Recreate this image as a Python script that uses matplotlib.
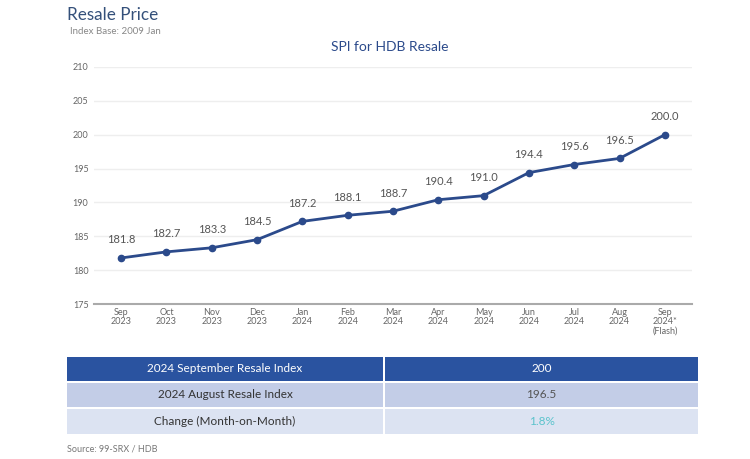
import matplotlib.pyplot as plt
from matplotlib.patches import Rectangle

months = ['Sep\n2023', 'Oct\n2023', 'Nov\n2023', 'Dec\n2023', 'Jan\n2024', 'Feb\n2024',
          'Mar\n2024', 'Apr\n2024', 'May\n2024', 'Jun\n2024', 'Jul\n2024', 'Aug\n2024',
          'Sep\n2024*\n(Flash)']
spi = [181.8, 182.7, 183.3, 184.5, 187.2, 188.1, 188.7, 190.4, 191.0, 194.4, 195.6, 196.5, 200.0]

table_labels = ['2024 September Resale Index', '2024 August Resale Index', 'Change (Month-on-Month)']
table_values = ['200', '196.5', '1.8%']

W, H = 750, 459
fig = plt.figure(figsize=(7.5, 4.59), dpi=100)
plt.rcParams['font.family'] = ['Lato', 'DejaVu Sans']

line_col = '#2b4a8b'
gray = '#666666'

# main chart
ax = fig.add_axes([94 / W, 1 - 304 / H, (692 - 94) / W, (304 - 67) / H])
x = range(len(spi))
ax.plot(x, spi, color=line_col, lw=2, marker='o', ms=4.5, zorder=3)
for i, v in zip(x, spi):
    ax.annotate(f'{v:.1f}', (i, v), xytext=(0, 9), textcoords='offset points',
                ha='center', va='bottom', fontsize=8, color='#555555')
ax.set_ylim(175, 210)
ax.set_yticks(range(175, 211, 5))
ax.set_xlim(-0.6, 12.6)
ax.set_xticks(list(x))
ax.set_xticklabels(months, fontsize=6.5, color=gray, linespacing=1.0)
ax.tick_params(axis='y', labelsize=6.5, labelcolor=gray, length=0, pad=4)
ax.tick_params(axis='x', length=0, pad=3)
ax.grid(axis='y', color='#eeeeee', lw=1)
ax.set_axisbelow(True)
for s in ['top', 'right', 'left']:
    ax.spines[s].set_visible(False)
ax.spines['bottom'].set_color('#aaaaaa')
ax.spines['bottom'].set_linewidth(1.5)

# titles
fig.text(67 / W, 1 - 15 / H, 'Resale Price', fontsize=12.3, color='#34507a', va='center')
fig.text(70 / W, 1 - 32 / H, 'Index Base: 2009 Jan', fontsize=7, color='#888888', va='center')
fig.text(390 / W, 1 - 47 / H, 'SPI for HDB Resale', fontsize=10, color='#2b4a8b', va='center', ha='center')

# summary table
tab = fig.add_axes([0, 0, 1, 1])
tab.set_xlim(0, W)
tab.set_ylim(H, 0)
tab.axis('off')
rows = [(357, 381, '#2a53a0', 'white', 'white'),
        (383, 407, '#c3cde7', '#333333', '#555555'),
        (409, 434, '#dce3f2', '#333333', '#5bc3cc')]
for (y0, y1, bg, c1, c2), lab, val in zip(rows, table_labels, table_values):
    tab.add_patch(Rectangle((67, y0), 383 - 67, y1 - y0, color=bg, lw=0))
    tab.add_patch(Rectangle((385, y0), 698 - 385, y1 - y0, color=bg, lw=0))
    tab.text((67 + 383) / 2, (y0 + y1) / 2, lab, ha='center', va='center', fontsize=8.5, color=c1)
    tab.text((385 + 698) / 2, (y0 + y1) / 2, val, ha='center', va='center', fontsize=8.5, color=c2)

fig.text(67 / W, 1 - 449 / H, 'Source: 99-SRX / HDB', fontsize=6.5, color='#777777', va='center')

fig.savefig('out.png', dpi=100)
